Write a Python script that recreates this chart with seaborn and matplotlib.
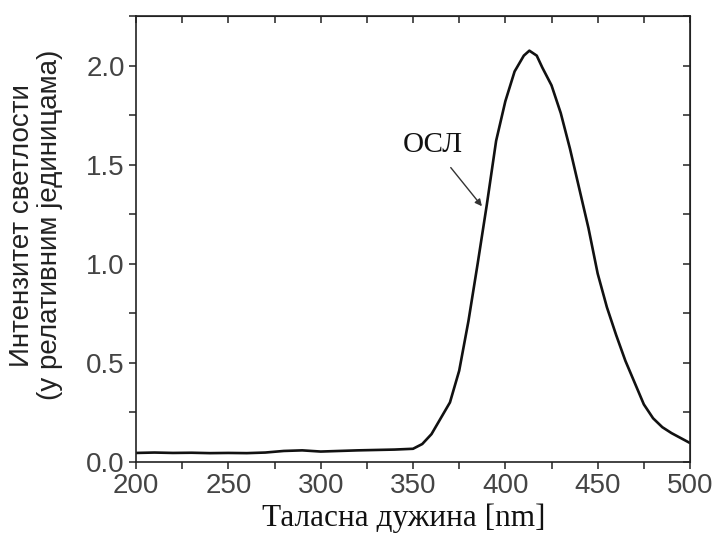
import matplotlib
matplotlib.use("Agg")
import matplotlib.pyplot as plt
import seaborn as sns
import pandas as pd
from matplotlib.ticker import MultipleLocator

wavelength = [200, 210, 220, 230, 240, 250, 260, 270, 280, 290, 300, 310, 320, 330, 340, 350,
              355, 360, 365, 370, 375, 380, 385, 390, 395, 400, 405, 410, 413, 417, 420, 425,
              430, 435, 440, 445, 450, 455, 460, 465, 470, 475, 480, 485, 490, 495, 500]
intensity = [0.045, 0.047, 0.045, 0.046, 0.044, 0.045, 0.044, 0.047, 0.055, 0.058, 0.052, 0.055,
             0.058, 0.060, 0.062, 0.066, 0.09, 0.14, 0.22, 0.30, 0.46, 0.71, 1.00, 1.30, 1.62,
             1.82, 1.97, 2.05, 2.075, 2.05, 1.99, 1.90, 1.76, 1.58, 1.38, 1.18, 0.95, 0.78,
             0.64, 0.51, 0.40, 0.29, 0.22, 0.175, 0.145, 0.12, 0.095]
x_ticks = [200, 250, 300, 350, 400, 450, 500]
y_ticks = [0.0, 0.5, 1.0, 1.5, 2.0]
x_label = "Таласна дужина [nm]"
y_label = "Интензитет светлости\n(у релативним јединицама)"
annot_text = "ОСЛ"

sns.set_style("ticks")
plt.rcParams['font.family'] = ['Liberation Sans', 'DejaVu Sans']

df = pd.DataFrame({"wl": wavelength, "I": intensity})

fig = plt.figure(figsize=(7.16, 5.44), dpi=100)
ax = fig.add_axes([0.19, 0.151, 0.7737, 0.8196])
sns.lineplot(data=df, x="wl", y="I", ax=ax, color="#111111", linewidth=1.9)

ax.set_xlim(200, 500)
ax.set_ylim(0, 2.25)
ax.set_xticks(x_ticks)
ax.set_yticks(y_ticks)
ax.set_xticklabels([str(t) for t in x_ticks])
ax.set_yticklabels([f"{t:.1f}" for t in y_ticks])
ax.xaxis.set_minor_locator(MultipleLocator(25))
ax.yaxis.set_minor_locator(MultipleLocator(0.25))

for s in ax.spines.values():
    s.set_visible(True)
    s.set_linewidth(1.2)
    s.set_color("#222222")

ax.tick_params(axis="both", which="both", direction="out", length=5, width=1.1,
               color="#222222", labelsize=20, labelcolor="#444444", pad=3)
# inward ticks on top and right
ax2 = ax.secondary_xaxis("top")
ax2.set_xticks(x_ticks)
ax2.xaxis.set_minor_locator(MultipleLocator(25))
ax2.tick_params(axis="x", which="both", direction="in", length=5, width=1.1,
                color="#222222", labeltop=False)
ax2.set_xticklabels([])
ax3 = ax.secondary_yaxis("right")
ax3.set_yticks(y_ticks)
ax3.yaxis.set_minor_locator(MultipleLocator(0.25))
ax3.tick_params(axis="y", which="both", direction="in", length=5, width=1.1,
                color="#222222", labelright=False)
ax3.set_yticklabels([])

ax.set_xlabel(x_label, family=["Liberation Serif", "DejaVu Serif"], fontsize=22.5,
              color="#111111")
ax.xaxis.set_label_coords(0.483, -0.093)
ax.set_ylabel(y_label, fontsize=20, color="#222222", linespacing=1.12)
ax.yaxis.set_label_coords(-0.132, 0.531)

ax.annotate(annot_text, xy=(387.3, 1.29), xytext=(360.5, 1.60),
            fontsize=21, family=["Liberation Serif", "DejaVu Serif"], color="#111111",
            ha="center", va="center",
            arrowprops=dict(arrowstyle="-|>", color="#333333", lw=1.0,
                            mutation_scale=10, shrinkA=6, shrinkB=0))

fig.savefig("out.png", dpi=100, facecolor="white")
